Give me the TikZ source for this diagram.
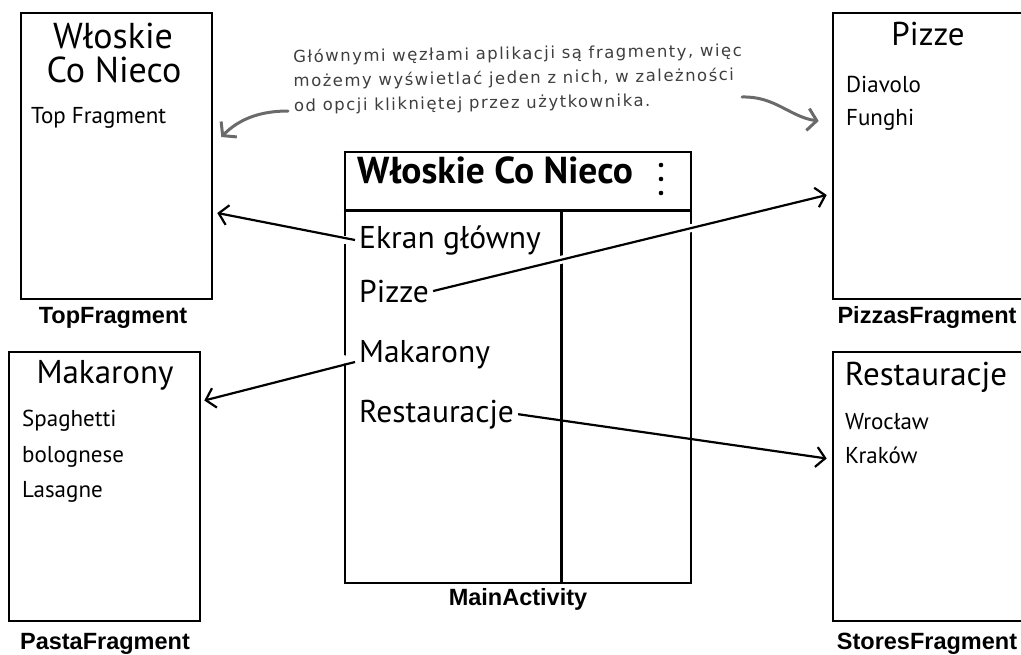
\documentclass[tikz,border=0pt]{standalone}
\usepackage{fontspec}
\setmainfont{Liberation Sans}
\newfontfamily\hand{PT Sans}
\newfontfamily\note[LetterSpace=9]{DejaVu Sans}
\usetikzlibrary{arrows.meta,calc}
\definecolor{notegray}{HTML}{3E3E3E}
\definecolor{arrgray}{HTML}{6A6A6A}
\tikzset{
  frame/.style={draw=black, line width=2.6pt, rectangle, inner sep=0pt},
  boxtitle/.style={font=\hand\fontsize{33}{33}\selectfont, inner sep=0pt, anchor=base},
  bigtitle/.style={font=\hand\fontsize{36}{36}\selectfont, inner sep=0pt, anchor=base},
  item/.style={font=\hand\fontsize{23}{23}\selectfont, inner sep=0pt, anchor=base west},
  menuitem/.style={font=\hand\fontsize{31.5}{31.5}\selectfont, inner sep=4pt, anchor=base west},
  caption/.style={font=\bfseries\fontsize{23.5}{23.5}\selectfont, inner sep=0pt, anchor=base},
  conn/.style={draw=black, line width=2.2pt, -{Straight Barb[length=9pt,width=20pt,line width=2.2pt]}},
  halo/.style={draw=white, line width=8pt},
  notearrow/.style={draw=arrgray, line width=3pt, line cap=round, -{Straight Barb[length=9pt,width=22pt,line width=3pt]}},
}
\begin{document}
\begin{tikzpicture}[x=1pt,y=-1pt]
\useasboundingbox (0,0) rectangle (1021,654);
\clip (0,0) rectangle (1021,654);
% fragment boxes
\node[frame, minimum width=191pt, minimum height=286pt] (top) at (116.5,156) {};
\node[frame, minimum width=210pt, minimum height=286pt] (pizze) at (938,156) {};
\node[frame, minimum width=191pt, minimum height=269pt] (pasta) at (104.5,486.5) {};
\node[frame, minimum width=210pt, minimum height=269pt] (stores) at (938,486.5) {};
% main activity
\node[frame, minimum width=346pt, minimum height=431pt] (main) at (518,367.5) {};
\coordinate (hl) at ([yshift=-60pt]main.north west);
\coordinate (hr) at ([yshift=-60pt]main.north east);
\draw[line width=2.6pt] (hl) -- (hr);
\coordinate (dtop) at ($(hl)+(218,0)$);
\coordinate (dbot) at ($(main.south west)+(218,0)$);
\draw[line width=2.6pt] (dtop) -- (dbot);
\node[font=\hand\bfseries\fontsize{37.5}{37.5}\selectfont, inner sep=0pt, anchor=base west] (hdr) at (357,183) {Włoskie Co Nieco};
\fill (661,165) circle (2.3pt) (661,179) circle (2.3pt) (661,193) circle (2.3pt);
\node[menuitem] (ekran) at (355,248) {Ekran główny};
\node[menuitem] (pizzeitem) at (355,302) {Pizze};
\node[menuitem] (makitem) at (355,362) {Makarony};
\node[menuitem] (restitem) at (355,422) {Restauracje};
% texts in fragments
\node[bigtitle] (t1) at (113,48) {Włoskie};
\node[bigtitle] (t2) at (114,82) {Co Nieco};
\node[item] (t3) at (31,123) {Top Fragment};
\node[boxtitle] (p1) at (928,45) {Pizze};
\node[item] (p2) at (846,92) {Diavolo};
\node[item] (p3) at (846,125) {Funghi};
\node[boxtitle] (m1) at (105,383) {Makarony};
\node[item] (m2) at (22,426) {Spaghetti};
\node[item] (m3) at (22,462) {bolognese};
\node[item] (m4) at (22,497) {Lasagne};
\node[boxtitle] (r1) at (926,385) {Restauracje};
\node[item] (r2) at (845,429) {Wrocław};
\node[item] (r3) at (845,463) {Kraków};
% captions
\node[caption] (ctop) at (113,323) {TopFragment};
\node[caption] (cpizze) at (927,323) {PizzasFragment};
\node[caption] (cmain) at (518,605) {MainActivity};
\node[caption] (cpasta) at (105,649) {PastaFragment};
\node[caption] (cstores) at (927,649) {StoresFragment};
% note
\node[font=\note\fontsize{16.5}{24.5}\selectfont, text=notegray, align=left, anchor=north west, inner sep=0pt, rotate=0.8] (note) at (293,49) {Głównymi węzłami aplikacji są fragmenty, więc\\możemy wyświetlać jeden z nich, w zależności\\od opcji klikniętej przez użytkownika.};
\coordinate (nl) at (288,111);
\coordinate (nr) at (742,97);
\draw[notearrow] (nl) .. controls (262,111) and (240,118) .. ([xshift=8pt,yshift=19pt]top.east);
\draw[notearrow] (nr) .. controls (775,96) and (790,117) .. ([xshift=-13pt,yshift=35pt]pizze.west);
% connectors
\draw[halo, shorten <=2pt] (ekran.west) -- ([xshift=-12pt]ekran.west);
\draw[conn] (ekran.west) -- ([xshift=4pt,yshift=-57pt]top.east);
\draw[halo, shorten <=2pt, shorten >=40pt] (pizzeitem.east) -- ([xshift=-5pt,yshift=-39pt]pizze.west);
\draw[conn] (pizzeitem.east) -- ([xshift=-5pt,yshift=-39pt]pizze.west);
\draw[halo, shorten <=2pt] (makitem.base west) -- ([xshift=-12pt,yshift=3pt]makitem.base west);
\draw[conn] (makitem.base west) -- ([xshift=3pt,yshift=86pt]pasta.east);
\draw[conn] (restitem.east) -- ([xshift=-5pt,yshift=28pt]stores.west);
\end{tikzpicture}
\end{document}
